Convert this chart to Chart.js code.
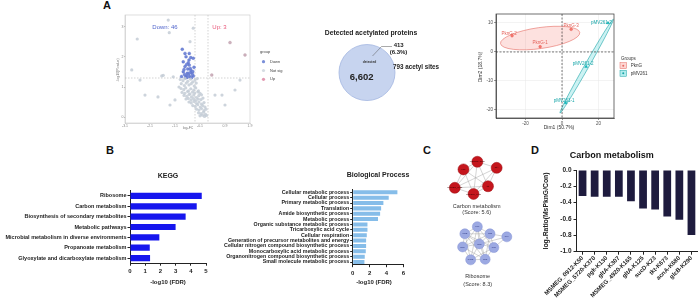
<!DOCTYPE html>
<html>
<head>
<meta charset="utf-8">
<script src="https://cdn.jsdelivr.net/npm/chart.js@4.4.1/dist/chart.umd.min.js"></script>
<style>
html, body { margin: 0; padding: 0; background: #fff; }
body { width: 700px; height: 302px; position: relative; overflow: hidden; font-family: 'Liberation Sans', Arial, sans-serif; }
canvas { position: absolute; }
.lt { position: absolute; font-weight: bold; font-size: 11px; line-height: 11px; color: #111; }
</style>
</head>
<body>
<div class="lt" style="left:103px;top:0px">A</div>
<div class="lt" style="left:106px;top:145px">B</div>
<div class="lt" style="left:423px;top:145px">C</div>
<div class="lt" style="left:531px;top:145px">D</div>

<canvas id="volcano" width="170" height="125" style="left:115px;top:10px"></canvas>
<canvas id="venn" width="150" height="100" style="left:300px;top:20px"></canvas>
<canvas id="pca" width="180" height="130" style="left:470px;top:5px"></canvas>
<canvas id="kegg" width="215" height="125" style="left:0px;top:165px"></canvas>
<canvas id="bp" width="200" height="125" style="left:215px;top:165px"></canvas>
<canvas id="net" width="90" height="150" style="left:430px;top:145px"></canvas>
<canvas id="carbon" width="170" height="157" style="left:530px;top:145px"></canvas>

<script>
// ---- A: volcano (log2FC, -log10 p) ----
const volDown = [[-0.77,2.26],[-0.66,2.12],[-0.49,2.12],[-0.62,2.01],[-0.43,1.98],[-0.73,1.84],[-0.53,1.81],[-0.33,1.96],
  [-0.66,1.68],[-0.49,1.73],[-0.30,1.66],[-0.73,1.51],[-0.57,1.46],[-0.39,1.48],[-0.62,1.37],[-0.46,1.34],[-0.33,1.37],
  [-0.55,1.60],[-0.42,1.55],[-0.68,1.42],[-0.36,1.42],[-0.50,1.90],[-0.60,1.75],[-0.45,1.62],[-0.70,1.58],[-0.58,1.32],
  [-0.40,1.31],[-0.52,1.40],[-0.35,1.52],[-0.80,1.35],[-0.64,1.31],[-0.48,1.47]];
const volUp = [[1.14,2.48],[1.74,2.07],[0.41,1.40]];
const volNotSig = [[-1.33,3.23],[-1.29,2.81],[-2.57,2.60],[-2.79,1.57],[-1.59,1.37],[-1.53,1.39],[-1.13,1.34],[-0.46,2.51],[-0.33,2.96],
  [-2.26,0.73],[-1.74,0.67],[0.54,0.73],[0.82,0.73],[1.34,0.90],[-2.46,1.23],[1.54,1.23],[0.94,0.40],[-1.26,0.40],[-1.06,0.57],
  [-0.85,1.25],[-0.74,1.21],[-0.66,1.28],[-0.55,1.19],[-0.44,1.26],[-0.35,1.17],[-0.26,1.23],[-0.17,1.28],[-0.81,1.11],[-0.69,1.05],
  [-0.61,1.13],[-0.50,1.07],[-0.41,1.11],[-0.29,1.03],[-0.21,1.13],[-0.90,1.00],[-0.82,0.95],[-0.71,0.91],[-0.63,0.97],[-0.52,0.87],
  [-0.43,0.94],[-0.31,0.90],[-0.23,0.97],[-0.12,0.87],[-0.78,0.82],[-0.67,0.79],[-0.56,0.85],[-0.46,0.77],[-0.36,0.83],[-0.27,0.80],
  [-0.15,0.84],[-0.06,0.79],[-0.70,0.72],[-0.59,0.69],[-0.50,0.75],[-0.40,0.67],[-0.31,0.73],[-0.20,0.65],[-0.11,0.71],[0.00,0.74],
  [-0.62,0.60],[-0.53,0.62],[-0.42,0.57],[-0.32,0.61],[-0.22,0.55],[-0.13,0.60],[-0.02,0.58],[0.06,0.63],[-0.50,0.50],[-0.41,0.47],
  [-0.30,0.52],[-0.20,0.45],[-0.10,0.50],[0.00,0.43],[0.10,0.48],[-0.35,0.38],[-0.25,0.35],[-0.15,0.41],[-0.05,0.33],[0.05,0.38],
  [0.14,0.33],[-0.20,0.26],[-0.10,0.23],[0.00,0.28],[0.10,0.21],[0.18,0.26],[-0.12,0.14],[-0.02,0.11],[0.08,0.16],[0.16,0.09],
  [-0.06,0.04],[0.04,0.06],[0.12,0.02],[0.20,0.05]];
const downCount = 46, upCount = 3;
const fcCut = 0.26, pCut = 1.3;

// ---- A: Venn ----
const vennCounts = [6602, 413];
const vennSites = 793;

// ---- A: PCA ----
const pcaPknG = [[-12.0,1.8],[-27.4,5.6],[5.0,7.8]];
const pcaPknGNames = ['PknG-1','PknG-2','PknG-3'];
const pcaPMV = [[2.0,-17.6],[13.2,-5.1],[25.2,10.0]];
const pcaPMVNames = ['pMV261-1','pMV261-2','pMV261-3'];

// ---- B ----
const keggTerms = ['Ribosome','Carbon metabolism','Biosynthesis of secondary metabolites','Metabolic pathways',
  'Microbial metabolism in diverse environments','Propanoate metabolism','Glyoxylate and dicarboxylate metabolism'];
const keggVals = [4.72, 4.39, 3.66, 3.0, 1.93, 1.3, 1.32];
const bpTerms = ['Cellular metabolic process','Cellular process','Primary metabolic process','Translation',
  'Amide biosynthetic process','Metabolic process','Organic substance metabolic process','Tricarboxylic acid cycle',
  'Cellular respiration','Generation of precursor metabolites and energy','Cellular nitrogen compound biosynthetic process',
  'Monocarboxylic acid metabolic process','Organonitrogen compound biosynthetic process','Small molecule metabolic process'];
const bpVals = [5.3, 4.27, 3.64, 3.37, 3.25, 3.0, 1.75, 1.75, 1.67, 1.59, 1.59, 1.55, 1.43, 1.39];

// ---- C: networks ----
const carbonNodes = [[31.7,20],[47.7,11.7],[70,18.3],[21.7,40],[60,38.3],[43.3,46.7]];
const carbonNames = ['pgk','MSMEG_5720','gltA','MSMEG_0912','tkt','MSMEG_4920'];
const carbonEdges = [[0,1],[1,2],[0,3],[0,4],[0,5],[1,3],[1,4],[1,5],[2,3],[2,4],[2,5],[3,4],[3,5],[4,5]];
const riboNodes = [[47.7,82.3],[33.3,90],[62.3,90],[81.7,93.3],[50,101],[30.7,104.3],[66.7,105],[40,118.3],[56.7,117.7]];
const riboNames = ['rplF','rpsE','rplE','rplX','rplN','rpsH','rplR','rpmD','rplO'];
const riboEdges = [[0,1],[0,2],[0,4],[0,5],[0,6],[0,7],[0,8],[1,2],[1,4],[1,5],[1,6],[1,7],[1,8],[2,3],[2,4],[2,5],
  [2,6],[2,8],[3,4],[3,6],[4,5],[4,6],[4,7],[4,8],[5,7],[5,8],[6,7],[6,8],[7,8]];

// ---- D ----
const carbonSites = ['MSMEG_0912-K50','MSMEG_5720-K370','pgk-K130','gltA-K307','MSMEG_4920-K165',
  'gltA-K125','sucD-K23','tkt-K673','acnA-K680','glcB-K290'];
const carbonRatios = [-0.318, -0.326, -0.326, -0.326, -0.383, -0.47, -0.485, -0.57, -0.61, -0.795];

Chart.defaults.font.family = "'Liberation Sans', Arial, sans-serif";
Chart.defaults.animation = false;
Chart.defaults.responsive = false;
Chart.defaults.events = [];
Chart.defaults.plugins.legend.display = false;
Chart.defaults.plugins.tooltip.enabled = false;

const xy = arr => arr.map(p => ({x: p[0], y: p[1]}));

function textPlugin(items) {
  return { id: 'txt', afterDraw(chart) {
    const c = chart.ctx;
    items.forEach(t => {
      c.save();
      c.font = t.font; c.fillStyle = t.color || '#222';
      c.textAlign = t.align || 'center'; c.textBaseline = 'middle';
      c.translate(t.x, t.y);
      if (t.rot) c.rotate(t.rot);
      c.fillText(t.text, 0, 0);
      c.restore();
    });
  }};
}

// ---------- volcano ----------
const volDeco = {
  id: 'volDeco',
  beforeDatasetsDraw(ch) {
    const {ctx, chartArea: a, scales: {x, y}} = ch;
    ctx.save();
    ctx.strokeStyle = '#c8c8c8'; ctx.lineWidth = 0.6;
    ctx.strokeRect(a.left, a.top, a.width, a.height);
    ctx.setLineDash([1.5, 1.5]); ctx.strokeStyle = '#b5b5b5';
    [-fcCut, fcCut].forEach(v => {
      const px = x.getPixelForValue(v);
      ctx.beginPath(); ctx.moveTo(px, a.top); ctx.lineTo(px, a.bottom); ctx.stroke();
    });
    const py = y.getPixelForValue(pCut);
    ctx.beginPath(); ctx.moveTo(a.left, py); ctx.lineTo(a.right, py); ctx.stroke();
    ctx.restore();
  },
  afterDraw(ch) {
    const {ctx, scales: {x, y}} = ch;
    ctx.save();
    ctx.font = '6px "Liberation Sans", Arial'; ctx.textAlign = 'center'; ctx.textBaseline = 'middle';
    ctx.fillStyle = '#5266cc';
    ctx.fillText('Down: ' + downCount, x.getPixelForValue(-1.46), y.getPixelForValue(3.0));
    ctx.fillStyle = '#e8577a';
    ctx.fillText('Up: ' + upCount, x.getPixelForValue(0.72), y.getPixelForValue(3.0));
    // legend
    ctx.font = '4px "Liberation Sans", Arial'; ctx.textAlign = 'left'; ctx.fillStyle = '#444';
    ctx.fillText('group', 145, 42);
    const keys = [['Down', '#7a8fd9'], ['Not sig', '#d5dce2'], ['Up', '#e29ab2']];
    keys.forEach((k, i) => {
      const yy = 51.7 + i * 8.8;
      ctx.fillStyle = k[1];
      ctx.beginPath(); ctx.arc(148.5, yy, 1.6, 0, Math.PI * 2); ctx.fill();
      ctx.fillStyle = '#444';
      ctx.fillText(k[0], 155, yy);
    });
    ctx.restore();
  }
};

new Chart(document.getElementById('volcano'), {
  type: 'scatter',
  data: { datasets: [
    { data: xy(volNotSig), backgroundColor: 'rgba(196,205,214,0.85)', borderWidth: 0, pointRadius: 1.6 },
    { data: xy(volDown), backgroundColor: '#7389d8', borderColor: '#5064c4', borderWidth: 0.3, pointRadius: 1.5 },
    { data: xy(volUp), backgroundColor: '#cdb0bc', borderColor: '#b89aa6', borderWidth: 0.3, pointRadius: 1.5 }
  ]},
  options: {
    layout: { padding: { top: 5, right: 35, left: 0, bottom: 0 } },
    scales: {
      x: { type: 'linear', min: -3.06, max: 1.94, afterFit: s => { s.height = 12; },
        ticks: { stepSize: 1, includeBounds: false, font: { size: 3.5 }, color: '#888', padding: 0, maxRotation: 0 },
        grid: { drawOnChartArea: false, tickLength: 1, color: '#bbb' }, border: { color: '#c8c8c8', width: 0.6 } },
      y: { type: 'linear', min: -0.2, max: 3.4, afterFit: s => { s.width = 10; },
        ticks: { stepSize: 1, includeBounds: false, font: { size: 3.5 }, color: '#888', padding: 0.5 },
        grid: { drawOnChartArea: false, tickLength: 1, color: '#bbb' }, border: { color: '#c8c8c8', width: 0.6 } }
    }
  },
  plugins: [volDeco, textPlugin([
    { text: 'log\u2082FC', x: 73, y: 118, font: '3.5px "Liberation Sans", Arial', color: '#777' },
    { text: '-log10(P.value)', x: 3.5, y: 60, rot: -Math.PI / 2, font: '3.5px "Liberation Sans", Arial', color: '#777' }
  ])]
});

// ---------- venn ----------
const vennLayout = [{ x: 62, y: 56, r: 28 }, { x: 70, y: 40, r: 10 }];
new Chart(document.getElementById('venn'), {
  type: 'bubble',
  data: { datasets: [
    { data: [vennLayout[0]], clip: false, backgroundColor: '#c7d4ef', borderColor: '#a3b6e1', borderWidth: 0.8 },
    { data: [vennLayout[1]], clip: false, backgroundColor: '#dfe7f6', borderColor: '#bccaea', borderWidth: 0.8 }
  ]},
  options: {
    layout: { padding: 0 },
    scales: { x: { display: false, min: 0, max: 150 }, y: { display: false, min: 0, max: 100, reverse: true } }
  },
  plugins: [{
    id: 'vennLine', afterDatasetsDraw(ch) {
      const c = ch.ctx; c.save(); c.strokeStyle = '#555'; c.lineWidth = 0.5;
      c.beginPath(); c.moveTo(72.5, 36); c.lineTo(81.5, 26.5); c.lineTo(92, 26.5); c.stroke(); c.restore();
    }
  }, textPlugin([
    { text: 'Detected acetylated proteins', x: 71, y: 13, font: 'bold 6.8px "Liberation Sans", Arial', color: '#222' },
    { text: vennCounts[0].toLocaleString('en-US'), x: 61.7, y: 57, font: 'bold 9.5px "Liberation Sans", Arial', color: '#222' },
    { text: 'detected', x: 69.5, y: 42, font: 'bold 3.3px "Liberation Sans", Arial', color: '#333' },
    { text: String(vennCounts[1]), x: 98.7, y: 25, font: 'bold 6px "Liberation Sans", Arial', color: '#222' },
    { text: '(' + (vennCounts[1] / vennCounts[0] * 100).toFixed(1) + '%)', x: 98.5, y: 32.7, font: 'bold 6px "Liberation Sans", Arial', color: '#222' },
    { text: vennSites + ' acetyl sites', x: 116, y: 47.3, font: 'bold 6.3px "Liberation Sans", Arial', color: '#222' }
  ])]
});

// ---------- PCA ----------
const ellipses = [
  { cx: -12, cy: 4.8, rx: 40, ry: 10.5, rot: -8, fill: 'rgba(248,118,109,0.22)', stroke: '#e66b63' },
  { cx: 13.5, cy: -4.9, rx: 54, ry: 2.2, rot: -60.4, fill: 'rgba(0,191,196,0.2)', stroke: '#1aa5a8' }
];
const pcaDeco = {
  id: 'pcaDeco',
  beforeDatasetsDraw(ch) {
    const {ctx, chartArea: a, scales: {x, y}} = ch;
    ctx.save();
    ctx.beginPath(); ctx.rect(a.left, a.top, a.width, a.height); ctx.clip();
    ellipses.forEach(e => {
      ctx.beginPath();
      ctx.ellipse(x.getPixelForValue(e.cx), y.getPixelForValue(e.cy), e.rx, e.ry, e.rot * Math.PI / 180, 0, Math.PI * 2);
      ctx.fillStyle = e.fill; ctx.fill();
      ctx.strokeStyle = e.stroke; ctx.lineWidth = 0.6; ctx.stroke();
    });
    ctx.setLineDash([2, 1.5]); ctx.strokeStyle = '#222'; ctx.lineWidth = 0.6;
    const px = x.getPixelForValue(0), py = y.getPixelForValue(0);
    ctx.beginPath(); ctx.moveTo(px, a.top); ctx.lineTo(px, a.bottom); ctx.stroke();
    ctx.beginPath(); ctx.moveTo(a.left, py); ctx.lineTo(a.right, py); ctx.stroke();
    ctx.restore();
  },
  afterDatasetsDraw(ch) {
    const {ctx, chartArea: a} = ch;
    ctx.save();
    ctx.strokeStyle = '#333'; ctx.lineWidth = 0.7;
    ctx.strokeRect(a.left, a.top, a.width, a.height);
    ctx.font = '4.5px "Liberation Sans", Arial'; ctx.textAlign = 'center'; ctx.textBaseline = 'middle';
    const offs = [[[0, -4], [-3, -1.5], [0, -4]], [[-1.5, -2.5], [-3, -2.5], [-6.5, 0]]];
    const names = [pcaPknGNames, pcaPMVNames];
    const cols = ['#e4625a', '#17a6a9'];
    [0, 1].forEach(d => {
      ch.getDatasetMeta(d).data.forEach((pt, i) => {
        ctx.fillStyle = cols[d];
        ctx.fillText(names[d][i], pt.x + offs[d][i][0], pt.y + offs[d][i][1]);
      });
    });
    // legend
    ctx.textAlign = 'left'; ctx.fillStyle = '#333';
    ctx.fillText('Groups', 151, 53.3);
    const keys = [['PknG', 'rgba(248,118,109,0.3)', '#e66b63'], ['pMV261', 'rgba(0,191,196,0.3)', '#1aa5a8']];
    keys.forEach((k, i) => {
      const yy = 60.7 + i * 7.6;
      ctx.fillStyle = k[1]; ctx.fillRect(150, yy - 3, 6.5, 6);
      ctx.strokeStyle = k[2]; ctx.lineWidth = 0.5; ctx.strokeRect(150, yy - 3, 6.5, 6);
      ctx.fillStyle = k[2]; ctx.beginPath(); ctx.arc(153.25, yy, 1, 0, Math.PI * 2); ctx.fill();
      ctx.fillStyle = '#333'; ctx.fillText(k[0], 160.7, yy);
    });
    ctx.restore();
  }
};
new Chart(document.getElementById('pca'), {
  type: 'scatter',
  data: { datasets: [
    { data: xy(pcaPknG), backgroundColor: '#f8766d', borderColor: '#e0625a', borderWidth: 0.4, pointRadius: 1.4 },
    { data: xy(pcaPMV), pointStyle: 'triangle', backgroundColor: '#00bfc4', borderColor: '#12a0a3', borderWidth: 0.4, pointRadius: 1.7 }
  ]},
  options: {
    layout: { padding: { top: 9, right: 36, left: 0, bottom: 0 } },
    scales: {
      x: { type: 'linear', min: -36.2, max: 28.5, afterFit: s => { s.height = 17; },
        ticks: { stepSize: 20, includeBounds: false, font: { size: 4.5 }, color: '#4d4d4d', padding: 1, maxRotation: 0 },
        grid: { color: '#e6e6e6', lineWidth: 0.5, tickLength: 2, tickColor: '#333' }, border: { color: '#333', width: 0.7 } },
      y: { type: 'linear', min: -22.8, max: 13.1, afterFit: s => { s.width = 26; },
        ticks: { stepSize: 10, includeBounds: false, font: { size: 4.5 }, color: '#4d4d4d', padding: 1 },
        grid: { color: '#e6e6e6', lineWidth: 0.5, tickLength: 2, tickColor: '#333' }, border: { color: '#333', width: 0.7 } }
    }
  },
  plugins: [pcaDeco, textPlugin([
    { text: 'Dim1 (50.7%)', x: 89, y: 123, font: '5px "Liberation Sans", Arial', color: '#333' },
    { text: 'Dim2 (18.7%)', x: 11, y: 62, rot: -Math.PI / 2, font: '5px "Liberation Sans", Arial', color: '#333' }
  ])]
});

// ---------- B: horizontal bars ----------
function hbar(id, labels, vals, color, o) {
  return new Chart(document.getElementById(id), {
    type: 'bar',
    data: { labels: labels, datasets: [{ data: vals, backgroundColor: color, barPercentage: o.bar, categoryPercentage: 1 }] },
    options: {
      indexAxis: 'y',
      layout: { padding: { top: o.top, right: o.right, left: 0, bottom: 0 } },
      scales: {
        x: { min: 0, max: o.max, afterFit: s => { s.height = o.xh; },
          ticks: { stepSize: o.step, includeBounds: false, font: { size: 6, weight: 'bold' }, color: '#222', padding: 2.5, maxRotation: 0 },
          grid: { drawOnChartArea: false, tickLength: 2.5, color: '#222' }, border: { color: '#222', width: 1 } },
        y: { afterFit: s => { s.width = o.yw; },
          ticks: { autoSkip: false, font: { size: o.fs, weight: 'bold' }, color: '#222', padding: 1 },
          grid: { drawOnChartArea: false, offset: false, tickLength: 2.5, color: '#222' }, border: { color: '#222', width: 1 } }
      }
    },
    plugins: [textPlugin(o.texts)]
  });
}
hbar('kegg', keggTerms, keggVals, '#1616ee', { bar: 0.6, top: 25.8, right: 9, max: 5, step: 1, xh: 26.8, yw: 130, fs: 5.5,
  texts: [
    { text: 'KEGG', x: 168, y: 11, font: 'bold 7px "Liberation Sans", Arial', color: '#222' },
    { text: '-log10 (FDR)', x: 168, y: 117, font: 'bold 6px "Liberation Sans", Arial', color: '#222' }
  ] });
hbar('bp', bpTerms, bpVals, '#86bde9', { bar: 0.75, top: 24.6, right: 11.7, max: 6, step: 2, xh: 25.3, yw: 137.7, fs: 5.3,
  texts: [
    { text: 'Biological Process', x: 163, y: 10, font: 'bold 7px "Liberation Sans", Arial', color: '#222' },
    { text: '-log10 (FDR)', x: 159, y: 117.7, font: 'bold 6px "Liberation Sans", Arial', color: '#222' }
  ] });

// ---------- C: networks ----------
const netDeco = {
  id: 'netDeco',
  beforeDatasetsDraw(ch) {
    const ctx = ch.ctx;
    ctx.save(); ctx.strokeStyle = '#a8a8a8'; ctx.lineWidth = 0.5;
    [[0, carbonEdges], [1, riboEdges]].forEach(([d, edges]) => {
      const pts = ch.getDatasetMeta(d).data;
      edges.forEach(([i, j]) => {
        ctx.beginPath(); ctx.moveTo(pts[i].x, pts[i].y); ctx.lineTo(pts[j].x, pts[j].y); ctx.stroke();
      });
    });
    ctx.restore();
  },
  afterDatasetsDraw(ch) {
    const ctx = ch.ctx;
    ctx.save(); ctx.textAlign = 'center'; ctx.textBaseline = 'middle';
    ctx.font = '2.3px "Liberation Sans", Arial';
    [[0, carbonNames, '#3a0000'], [1, riboNames, '#2b3580']].forEach(([d, names, col]) => {
      ctx.fillStyle = col;
      ch.getDatasetMeta(d).data.forEach((p, i) => ctx.fillText(names[i], p.x, p.y));
    });
    ctx.restore();
  }
};
new Chart(document.getElementById('net'), {
  type: 'scatter',
  data: { datasets: [
    { data: xy(carbonNodes), clip: false, pointRadius: 5.5, backgroundColor: '#c5161d', borderColor: '#9a1015', borderWidth: 0.5 },
    { data: xy(riboNodes), clip: false, pointRadius: 5, backgroundColor: '#9ca9e2', borderColor: '#8592d4', borderWidth: 0.5 }
  ]},
  options: {
    layout: { padding: 0 },
    scales: { x: { display: false, min: 0, max: 90 }, y: { display: false, min: 0, max: 150, reverse: true } }
  },
  plugins: [netDeco, textPlugin([
    { text: 'Carbon metabolism', x: 46.7, y: 61, font: '5.5px "Liberation Sans", Arial', color: '#333' },
    { text: '(Score: 5.6)', x: 46.7, y: 67.5, font: '5.5px "Liberation Sans", Arial', color: '#333' },
    { text: 'Ribosome', x: 47.7, y: 131.7, font: '5.5px "Liberation Sans", Arial', color: '#333' },
    { text: '(Score: 8.3)', x: 47.7, y: 139, font: '5.5px "Liberation Sans", Arial', color: '#333' }
  ])]
});

// ---------- D ----------
new Chart(document.getElementById('carbon'), {
  type: 'bar',
  data: { labels: carbonSites, datasets: [{ data: carbonRatios, backgroundColor: '#1e1b3e', barPercentage: 0.64, categoryPercentage: 1 }] },
  options: {
    layout: { padding: { top: 25, right: 2.5, left: 0, bottom: 0 } },
    scales: {
      x: { afterFit: s => { s.height = 50.3; },
        ticks: { autoSkip: false, minRotation: 45, maxRotation: 45, font: { size: 6, weight: 'bold' }, color: '#222', padding: 0 },
        grid: { drawOnChartArea: false, offset: false, tickLength: 3, color: '#222' }, border: { color: '#222', width: 1 } },
      y: { min: -1, max: 0, afterFit: s => { s.width = 46.5; },
        ticks: { stepSize: 0.2, includeBounds: false, font: { size: 6.5, weight: 'bold' }, color: '#222', padding: 2,
          callback: v => v.toFixed(1) },
        grid: { drawOnChartArea: false, tickLength: 3, color: '#222' }, border: { color: '#222', width: 1 } }
    }
  },
  plugins: [textPlugin([
    { text: 'Carbon metabolism', x: 81.7, y: 11, font: 'bold 9px "Liberation Sans", Arial', color: '#111' },
    { text: 'log\u2082Ratio(MsPknG/Con)', x: 16, y: 66, rot: -Math.PI / 2, font: 'bold 6.8px "Liberation Sans", Arial', color: '#222' }
  ])]
});
</script>
</body>
</html>
